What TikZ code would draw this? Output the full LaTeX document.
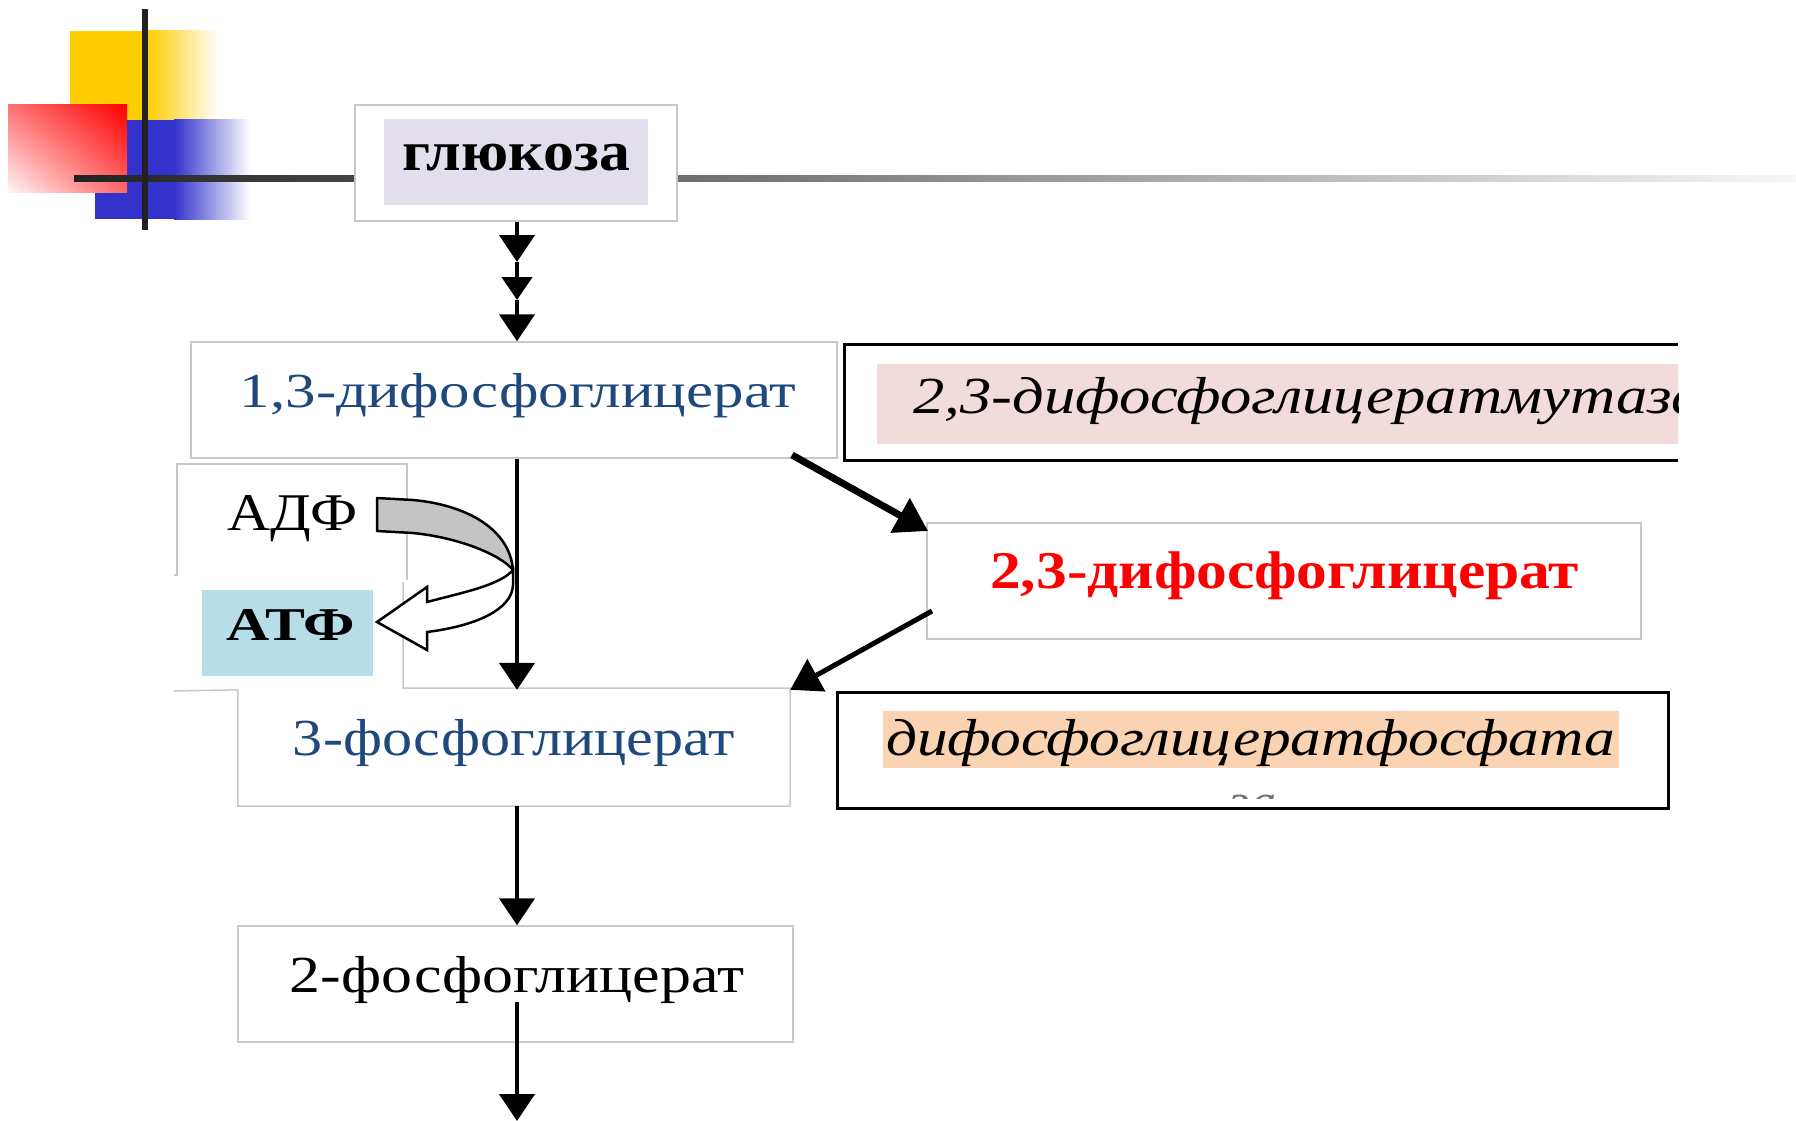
\documentclass[tikz,border=0pt]{standalone}
\usepackage{graphicx}
\usepackage{fontspec}
\setmainfont{Liberation Serif}
\usetikzlibrary{arrows.meta,shadings}
\definecolor{txtblue}{HTML}{1F497D}
\definecolor{lavender}{HTML}{E2DEEB}
\definecolor{rosefill}{HTML}{F2DCDB}
\definecolor{peachfill}{HTML}{FAD3B3}
\definecolor{atpblue}{HTML}{B7DDE8}
\definecolor{boxgray}{HTML}{C8C8C8}
\definecolor{bandgray}{HTML}{C4C4C4}
\definecolor{decoyellow}{HTML}{FFCC00}
\definecolor{decoblue}{HTML}{3333CC}
\definecolor{decored}{HTML}{FF0000}
\definecolor{decodark}{HTML}{222222}
\newcommand\fs[1]{\fontsize{#1}{#1}\selectfont}
\newcommand\fitw[2]{\resizebox{#1pt}{\height}{#2}}
\begin{document}
\begin{tikzpicture}[x=1pt,y=-1pt,
  lbox/.style={draw=boxgray,line width=1.5pt,fill=white,inner sep=0pt},
  hidden/.style={inner sep=0pt},
  label/.style={inner sep=0pt,anchor=base},
  edgeline/.style={draw=boxgray,line width=1.5pt},
  frame/.style={line width=3pt},
  arr/.style={line width=4.5pt,-{Triangle[width=35pt,length=27pt]}},
]
\useasboundingbox (0,0) rectangle (1796,1121);
\fill[white] (0,0) rectangle (1796,1121);

% corner ornament: coloured squares and crossing bars
\fill[decoyellow] (70,31) rectangle (148,120);
\shade[left color=decoyellow,right color=white] (147,31) rectangle (219,120);
\fill[decoblue] (95,120) rectangle (175,219);
\shade[left color=decoblue,right color=white] (174,120) rectangle (250,219);
\shade[upper left=decored!55!white,upper right=decored,
       lower left=decored!4!white,lower right=decored!60!white] (8,105) rectangle (127,192);
\shade[left color=decodark,right color=white!97!black] (74,175) rectangle (1796,181);
\fill[decodark] (142,9) rectangle (148,230);

% glucose
\node[lbox,minimum width=322pt,minimum height=116pt] (gbox) at (516,163) {};
\node[hidden,fill=lavender,minimum width=264pt,minimum height=86pt] (gfill) at (516,162) {};
\node[label] (gtext) at (516,170) {\fs{56}\bfseries\fitw{228}{глюкоза}};

% 1,3-diphosphoglycerate
\node[lbox,minimum width=646pt,minimum height=116pt] (d13) at (514,400) {};
\node[label,text=txtblue] (d13text) at (518,407) {\fs{49}\fitw{556}{1,3-дифосфоглицерат}};

% mutase
\fill[rosefill] (877,364) rectangle (1678,444);
\draw[frame] (1678,344) -- (844,344) -- (844,460) -- (1678,460);
\begin{scope}
  \clip (844,330) rectangle (1678,470);
  \node[label,anchor=base west] (mutase) at (913,413) {\fs{52}\itshape\fitw{790}{2,3-дифосфоглицератмутаза}};
\end{scope}

% 2,3-diphosphoglycerate
\node[lbox,minimum width=714pt,minimum height=116pt] (d23) at (1284,581) {};
\node[label,text=decored] (d23text) at (1284.5,588) {\fs{53}\bfseries\fitw{589}{2,3-дифосфоглицерат}};

% phosphatase
\fill[peachfill] (883,711) rectangle (1619,768);
\draw[frame] (837,692) rectangle (1668,808);
\node[label] (phos) at (1250.5,755) {\fs{52}\itshape\fitw{729}{дифосфоглицератфосфата}};
\begin{scope}
  \clip (1220,789) rectangle (1290,798);
  \node[label,text=black!55] (phostail) at (1253,819) {\fs{52}\itshape за};
\end{scope}

% ADP / ATP frames
\draw[edgeline] (174,575) -- (177,575) -- (177,464) -- (407,464) -- (407,580);
\node[hidden,minimum width=552pt,minimum height=116pt] (p3) at (514,748) {};
\draw[edgeline] (174,691) -- (p3.north west) -- (p3.south west) -- (p3.south east)
  -- (790,688) -- (403,688) -- (403,582);
\node[label] (adp) at (292.5,530) {\fs{53}\fitw{131}{АДФ}};
\node[hidden,fill=atpblue,minimum width=171pt,minimum height=86pt] (atpfill) at (287.5,633) {};
\node[label] (atp) at (291,640) {\fs{47}\bfseries\fitw{128}{АТФ}};

% ADP -> ATP bent arrows
\draw[line width=2.5pt,fill=bandgray,line join=round]
  (377,498) -- (413,500) .. controls (468,505) and (510,530) .. (513,570)
  .. controls (502,556) and (462,538) .. (413,533) -- (377,531) -- cycle;
\draw[line width=2.5pt,fill=white,line join=miter]
  (513,570) .. controls (500,585) and (465,592) .. (427,602)
  -- (427,587) -- (377,622) -- (427,650) -- (427,632)
  .. controls (475,626) and (512,610) .. (513,585) -- cycle;

% 3-phosphoglycerate
\node[label,text=txtblue] (p3text) at (514,755) {\fs{52}\fitw{442}{3-фосфоглицерат}};

% 2-phosphoglycerate
\node[lbox,minimum width=555pt,minimum height=116pt] (p2) at (515.5,984) {};
\node[label] (p2text) at (517,992) {\fs{52}\fitw{454}{2-фосфоглицерат}};

% connectors
\coordinate (ax) at (517,0);
\coordinate (h1) at (517,262);
\coordinate (h2) at (517,300);
\draw[arr] (gbox.south -| ax) -- (h1);
\draw[arr,-{Triangle[width=30pt,length=23pt]}] (h1) -- (h2);
\draw[arr] (h2) -- (d13.north -| ax);
\draw[arr] (d13.south -| ax) -- (p3.north -| ax);
\coordinate (s1) at (792,455);
\coordinate (t1) at (928,531);
\draw[line width=7pt,-{Triangle[width=38pt,length=32pt]}] (s1) -- (t1);
\coordinate (s2) at (932,611);
\draw[line width=5pt,-{Triangle[width=36pt,length=30pt]}] (s2) -- (p3.north east);
\draw[arr] (p3.south -| ax) -- (p2.north -| ax);
\coordinate (s3) at (517,1002);
\coordinate (e3) at (517,1121);
\draw[arr] (s3) -- (e3);
\end{tikzpicture}
\end{document}
